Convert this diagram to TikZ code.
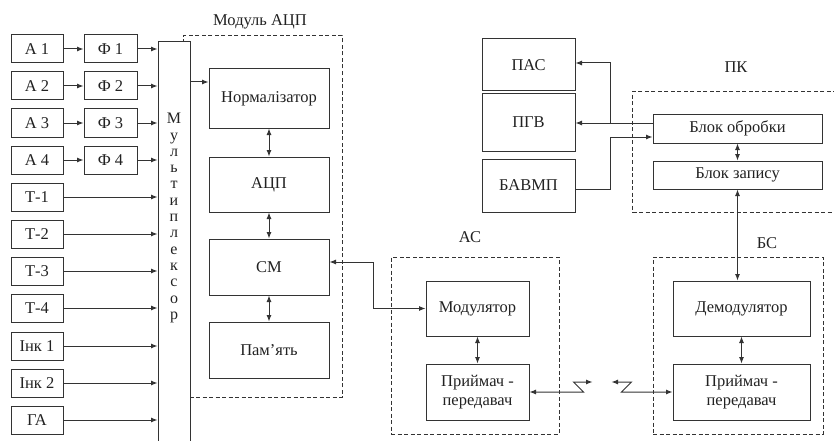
\documentclass[tikz,border=0pt]{standalone}
\usepackage{fontspec}
\setmainfont{Liberation Serif}
\usetikzlibrary{arrows.meta,positioning,calc}
\definecolor{SkInk}{HTML}{222222}
\definecolor{SkLine}{HTML}{333333}
\tikzset{
  flow/.style={-{Latex[length=6.5pt,width=5pt]},SkLine,line width=1pt},
  flowboth/.style={{Latex[length=6.5pt,width=5pt]}-{Latex[length=6.5pt,width=5pt]},SkLine,line width=1pt},
  blk/.style={draw=SkLine,line width=1pt,fill=white,text=SkInk,align=center,
              font=\fontsize{16.5}{19.5}\selectfont,inner sep=1pt},
  srcbox/.style={blk,minimum width=52pt,minimum height=28pt},
  filtbox/.style={blk,minimum width=53pt,minimum height=28pt},
  unit/.style={blk,minimum width=120pt},
  group/.style={draw=SkLine,line width=1pt,dash pattern=on 4pt off 2.5pt},
  grouphead/.style={text=SkInk,font=\fontsize{16.5}{19.5}\selectfont},
}

\begin{document}
\begin{tikzpicture}[x=1pt,y=-1pt]
    \useasboundingbox (0,0) rectangle (834,441);
    \clip (0,0) rectangle (834,441);
    \fill[white] (0,0) rectangle (834,441);
    % sensors and filters
    \node[srcbox] (a1) at (37,49) {А 1};
    \node[srcbox] (a2) at (37,86) {А 2};
    \node[srcbox] (a3) at (37,123) {А 3};
    \node[srcbox] (a4) at (37,160) {А 4};
    \node[srcbox] (t1) at (37,197) {Т-1};
    \node[srcbox] (t2) at (37,234) {Т-2};
    \node[srcbox] (t3) at (37,271) {Т-3};
    \node[srcbox] (t4) at (37,308) {Т-4};
    \node[srcbox] (ink1) at (37,346) {Інк 1};
    \node[srcbox] (ink2) at (37,383) {Інк 2};
    \node[srcbox] (ga) at (37,420) {ГА};
    \node[filtbox] (f1) at (110.5,49) {Ф 1};
    \node[filtbox] (f2) at (110.5,86) {Ф 2};
    \node[filtbox] (f3) at (110.5,123) {Ф 3};
    \node[filtbox] (f4) at (110.5,160) {Ф 4};
    % ADC module
    \node[group,minimum width=159pt,minimum height=361pt] (adcmod) at (262.5,216.5) {};
    \node[grouphead] (adcmodlbl) at (260,22) {Модуль АЦП};
    \node[blk,minimum width=32pt,minimum height=420pt,anchor=north] (mux) at (174,41) {};
    \node[grouphead,align=center,font=\fontsize{16}{16.3}\selectfont] (muxlbl) at (174,218)
      {М\\у\\л\\ь\\т\\и\\п\\л\\е\\к\\с\\о\\р};
    \draw[flow] (a1) -- (f1);
    \draw[flow] (a2) -- (f2);
    \draw[flow] (a3) -- (f3);
    \draw[flow] (a4) -- (f4);
    \draw[flow] (f1) -- (f1 -| mux.west);
    \draw[flow] (f2) -- (f2 -| mux.west);
    \draw[flow] (f3) -- (f3 -| mux.west);
    \draw[flow] (f4) -- (f4 -| mux.west);
    \draw[flow] (t1) -- (t1 -| mux.west);
    \draw[flow] (t2) -- (t2 -| mux.west);
    \draw[flow] (t3) -- (t3 -| mux.west);
    \draw[flow] (t4) -- (t4 -| mux.west);
    \draw[flow] (ink1) -- (ink1 -| mux.west);
    \draw[flow] (ink2) -- (ink2 -| mux.west);
    \draw[flow] (ga) -- (ga -| mux.west);
    \node[unit,minimum height=59pt] (norm) at (269,98.5) {Нормалізатор};
    \node[unit,minimum height=55pt] (adc) at (269,184.5) {АЦП};
    \node[unit,minimum height=56pt] (sm) at (269,267) {СМ};
    \node[unit,minimum height=56pt] (mem) at (269,350) {Пам’ять};
    \coordinate (normin) at ([yshift=16.5pt]norm.west);
    \draw[flow] (normin -| mux.east) -- (normin);
    \draw[flowboth] (norm) -- (adc);
    \draw[flowboth] (adc) -- (sm);
    \draw[flowboth] (sm) -- (mem);
    % subscriber station
    \node[group,minimum width=168pt,minimum height=177pt] (as) at (475,345.5) {};
    \node[grouphead] (aslbl) at (470,237) {АС};
    \node[blk,minimum width=103pt,minimum height=55pt] (mod) at (477.5,308.5) {Модулятор};
    \node[blk,minimum width=103pt,minimum height=56pt] (trxa) at (477.5,392) {Приймач -\\передавач};
    \draw[flowboth] (mod) -- (trxa);
    \draw[flowboth] ([yshift=5pt]sm.east) -- ++(44,0) |- (mod.west);
    % base station
    \node[group,minimum width=170pt,minimum height=177pt] (bs) at (738,345.5) {};
    \node[grouphead] (bslbl) at (767,243) {БС};
    \node[blk,minimum width=137pt,minimum height=55pt] (demod) at (741.5,308.5) {Демодулятор};
    \node[blk,minimum width=137pt,minimum height=56pt] (trxb) at (741.5,392) {Приймач -\\передавач};
    \draw[flowboth] (demod) -- (trxb);
    \draw[flowboth] (trxa.east) -- ++(54,0) -- ++(-10,-10) -- ++(19,0);
    \draw[flowboth] (trxb.west) -- ++(-51,0) -- ++(10,-10) -- ++(-20,0);
    % PC side
    \node[blk,minimum width=93pt,minimum height=52pt] (pas) at (528.5,65) {ПАС};
    \node[blk,minimum width=93pt,minimum height=57pt] (pgv) at (528.5,122.5) {ПГВ};
    \node[blk,minimum width=93pt,minimum height=53pt] (bavmp) at (528.5,185.5) {БАВМП};
    \node[group,minimum width=214pt,minimum height=121pt,anchor=north west] (pk) at (632,91) {};
    \node[grouphead] (pklbl) at (736,67) {ПК};
    \node[blk,minimum width=169pt,minimum height=29pt] (obr) at (737.5,128.5) {Блок обробки};
    \node[blk,minimum width=169pt,minimum height=28pt] (zap) at (737.5,175) {Блок запису};
    \draw[flowboth] (obr) -- (zap);
    \coordinate (obrout) at ([yshift=5.5pt]obr.west);
    \coordinate (obrin) at ([yshift=-8.5pt]obr.west);
    \coordinate (jn) at ([xshift=-42pt]obrout);
    \draw[flow] (obrout) -- (obrout -| pgv.east);
    \draw[flow] (jn) |- ([yshift=2pt]pas.east);
    \draw[flow] ([yshift=-3.5pt]bavmp.east) -| (jn |- obrin) -- (obrin);
    \draw[flowboth] (zap.south) -- (zap.south |- demod.north);
  \end{tikzpicture}
\end{document}
